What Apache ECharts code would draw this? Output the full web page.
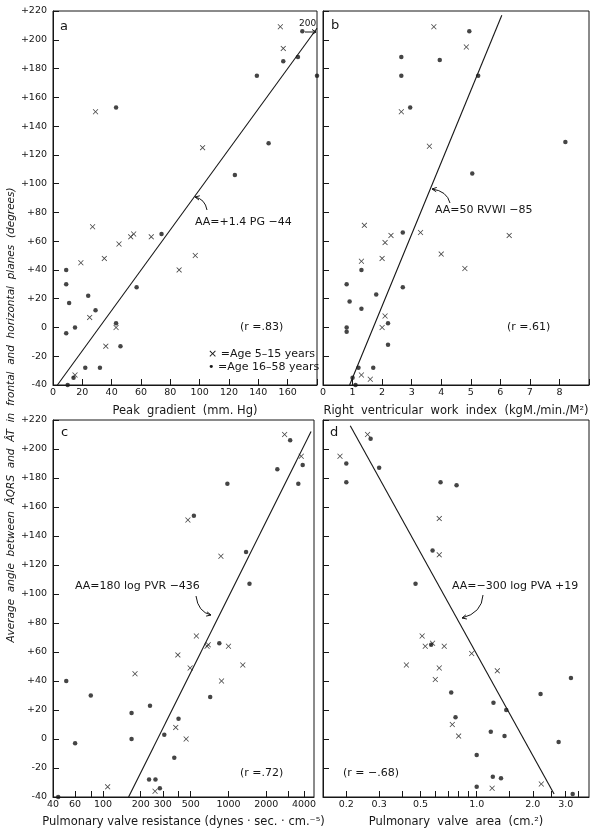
<!DOCTYPE html>
<html><head><meta charset="utf-8">
<script src="https://cdn.jsdelivr.net/npm/echarts@6/dist/echarts.min.js"></script>
<style>html,body{margin:0;padding:0;background:#fff}#c{width:601px;height:829px}</style>
</head><body><div id="c"></div>
<script>
// ---------- DATA ----------
// Panel a: Peak gradient (mm Hg) vs average angle
const aYoung = [[29,150],[102,125],[155,209],[157,194],[27,70],[53,63],[55,65],[67,63],[45,58],[35,48],[19,45],[25,7],[43,0],[36,-13],[15,-33],[86,40],[97,50]];
const aOld = [[43,153],[124,106],[139,175],[147,128],[157,185],[167,188],[170,206],[180,175],[74,65],[9,40],[9,30],[24,22],[11,17],[29,12],[15,0],[9,-4],[43,3],[46,-13],[22,-28],[32,-28],[14,-35],[10,-40],[57,28]];
const aLine = [[3,-40],[180,208]];
// Panel b: Right ventricular work index
const bYoung = [[3.75,209],[4.85,195],[2.65,150],[3.6,126],[1.4,71],[2.3,64],[3.3,66],[6.3,64],[2.1,59],[4.0,51],[2.0,48],[1.3,46],[4.8,41],[2.1,8],[2.0,0],[1.3,-33],[1.6,-36]];
const bOld = [[4.95,206],[2.65,188],[3.95,186],[2.65,175],[5.25,175],[2.95,153],[8.2,129],[5.05,107],[2.7,66],[1.3,40],[0.8,30],[2.7,28],[1.8,23],[0.9,18],[1.3,13],[2.2,3],[0.8,0],[0.8,-3],[2.2,-12],[1.2,-28],[1.7,-28],[1.0,-35],[1.1,-40]];
const bLine = [[0.9,-40],[6.05,217]];
// Panel c: Pulmonary valve resistance (log)
const cYoung = [[2800,210],[3800,195],[475,151],[870,126],[555,71],[675,64],[690,65],[1000,64],[395,58],[1300,51],[495,49],[180,45],[880,40],[380,8],[460,0],[109,-33],[260,-36]];
const cOld = [[3100,206],[3900,189],[2450,186],[3600,176],[980,176],[530,154],[1380,129],[1470,107],[845,66],[51,40],[80,30],[715,29],[237,23],[169,18],[400,14],[308,3],[169,0],[60,-3],[370,-13],[233,-28],[262,-28],[284,-34],[44,-40]];
const cLine = [[160,-40],[4550,212]];
// Panel d: Pulmonary valve area (log)
const dYoung = [[0.26,210],[0.185,195],[0.63,152],[0.63,127],[0.51,71],[0.53,64],[0.58,66],[0.67,64],[0.94,59],[0.42,51],[0.63,49],[1.29,47],[0.6,41],[0.74,10],[0.8,2],[1.21,-34],[2.22,-31]];
const dOld = [[0.27,207],[0.2,190],[0.3,187],[0.2,177],[0.64,177],[0.78,175],[0.58,130],[0.47,107],[0.57,65],[3.2,42],[0.73,32],[2.2,31],[1.23,25],[1.44,20],[0.77,15],[1.19,5],[1.41,2],[2.75,-2],[1.0,-11],[1.22,-26],[1.35,-27],[1.0,-33],[3.27,-38]];
const dLine = [[0.21,216],[2.6,-38]];
// Tick values
const cLabelValues = [40,60,100,200,300,500,1000,2000,4000];
const cTickValues = [40,60,80,100,200,300,400,500,1000,2000,3000,4000];
const dLabelValues = [0.2,0.3,0.5,1.0,2.0,3.0];
const dTickValues = [0.2,0.3,0.4,0.5,0.6,0.7,0.8,0.9,1.0,1.5,2.0,2.5,3.0,3.5];

// ---------- STYLE ----------
const INK = '#161616';
const F = 'DejaVu Sans';
const XSYM = 'path://M0,1L1,0L5,4L9,0L10,1L6,5L10,9L9,10L5,6L1,10L0,9L4,5Z';

const chart = echarts.init(document.getElementById('c'), null, {renderer:'canvas'});

function yAx(gi, show){
  return {type:'value', gridIndex:gi, min:-40, max:220, interval:20,
    axisLine:{show:true, onZero:false, lineStyle:{color:INK, width:1}},
    axisTick:{show:true, inside:true, length:6, lineStyle:{color:INK, width:1}},
    axisLabel:{show:show, color:INK, fontFamily:F, fontSize:9.5, margin:6,
      formatter: v => v>0 ? '+'+v : String(v)},
    splitLine:{show:false}};
}
function nameStyle(){ return {color:INK, fontFamily:F, fontSize:11.5}; }
const axLine = {show:true, onZero:false, lineStyle:{color:INK, width:1}};

const grids = [
  {left:53, top:11, width:264, height:374},
  {left:323, top:11, width:266, height:374},
  {left:53, top:420, width:261, height:379},
  {left:323, top:420, width:266, height:379}
].map(g => Object.assign({show:true, borderColor:INK, borderWidth:1, containLabel:false}, g));

const xAxes = [
  {type:'value', gridIndex:0, min:0, max:180, interval:20,
   name:'Peak  gradient  (mm. Hg)', nameLocation:'middle', nameGap:20, nameTextStyle:nameStyle(),
   axisLine:axLine, axisTick:{inside:true, length:6, lineStyle:{color:INK}},
   axisLabel:{color:INK, fontFamily:F, fontSize:9.5, margin:3, formatter: v => v===180 ? '' : String(v)},
   splitLine:{show:false}},
  {type:'value', gridIndex:1, min:0, max:9, interval:1,
   name:'Right  ventricular  work  index  (kgM./min./M²)', nameLocation:'middle', nameGap:20, nameTextStyle:nameStyle(),
   axisLine:axLine, axisTick:{inside:true, length:6, lineStyle:{color:INK}},
   axisLabel:{color:INK, fontFamily:F, fontSize:9.5, margin:3, formatter: v => v===9 ? '' : String(v)},
   splitLine:{show:false}},
  {type:'log', logBase:10, gridIndex:2, min:40, max:4800,
   name:'Pulmonary valve resistance (dynes · sec. · cm.⁻⁵)', nameLocation:'middle', nameGap:19, nameTextStyle:nameStyle(),
   axisLine:axLine,
   axisTick:{inside:true, length:6, lineStyle:{color:INK}, customValues:cTickValues},
   axisLabel:{color:INK, fontFamily:F, fontSize:9.5, margin:3, customValues:cLabelValues, formatter: v => String(Math.round(v))},
   minorTick:{show:false}, splitLine:{show:false}},
  {type:'log', logBase:10, gridIndex:3, min:0.15, max:4,
   name:'Pulmonary  valve  area  (cm.²)', nameLocation:'middle', nameGap:19, nameTextStyle:nameStyle(),
   axisLine:axLine,
   axisTick:{inside:true, length:6, lineStyle:{color:INK}, customValues:dTickValues},
   axisLabel:{color:INK, fontFamily:F, fontSize:9.5, margin:3, customValues:dLabelValues, formatter: v => Number(v).toFixed(1)},
   minorTick:{show:false}, splitLine:{show:false}}
];
const yAxes = [yAx(0,true), yAx(1,false), yAx(2,true), yAx(3,false)];

const panels = [[aYoung,aOld,aLine],[bYoung,bOld,bLine],[cYoung,cOld,cLine],[dYoung,dOld,dLine]];
const series = [];
panels.forEach((p,i) => {
  series.push({type:'line', xAxisIndex:i, yAxisIndex:i, data:p[2], symbol:'none', silent:true,
    lineStyle:{color:INK, width:1.1}, z:1});
  series.push({type:'scatter', xAxisIndex:i, yAxisIndex:i, data:p[0], symbol:XSYM, symbolSize:5.5,
    itemStyle:{color:INK}, z:2});
  series.push({type:'scatter', xAxisIndex:i, yAxisIndex:i, data:p[1], symbol:'circle', symbolSize:4.5,
    itemStyle:{color:INK}, z:2});
});

function txt(x,y,t,opt){
  return {type:'text', x:x, y:y, z:10, style:Object.assign({text:t, fill:INK, fontFamily:F, fontSize:11,
    align:'left', verticalAlign:'middle'}, opt||{})};
}
function arrow(sx,sy,cx,cy,ex,ey){
  const ang = Math.atan2(ey-cy, ex-cx), L=5, W=0.45;
  const p1=[ex - L*Math.cos(ang-W), ey - L*Math.sin(ang-W)];
  const p2=[ex - L*Math.cos(ang+W), ey - L*Math.sin(ang+W)];
  return [
    {type:'bezierCurve', z:10, shape:{x1:sx,y1:sy,x2:ex,y2:ey,cpx1:cx,cpy1:cy}, style:{stroke:INK,lineWidth:1,fill:null}},
    {type:'polyline', z:10, shape:{points:[p1,[ex,ey],p2]}, style:{stroke:INK,lineWidth:1,fill:null}}
  ];
}

const graphic = [
  txt(60,27,'a',{fontSize:13}), txt(331,26,'b',{fontSize:13}),
  txt(61,433,'c',{fontSize:13}), txt(330,433,'d',{fontSize:13}),
  txt(195,222,'AA=+1.4 PG −44'),
  txt(435,210,'AA=50 RVWI −85'),
  txt(75,586,'AA=180 log PVR −436'),
  txt(452,586,'AA=−300 log PVA +19'),
  txt(240,327,'(r =.83)'),
  txt(507,327,'(r =.61)'),
  txt(240,773,'(r =.72)'),
  txt(343,773,'(r = −.68)'),
  txt(208,354,'× =Age 5–15 years'),
  txt(208,367,'• =Age 16–58 years'),
  txt(299,24,'200',{fontSize:9}),
  {type:'line', z:10, shape:{x1:305,y1:32,x2:316,y2:32}, style:{stroke:INK,lineWidth:1}},
  {type:'polyline', z:10, shape:{points:[[312,29.5],[316,32],[312,34.5]]}, style:{stroke:INK,lineWidth:1,fill:null}},
  {type:'text', x:11, y:415, rotation:Math.PI/2, z:10,
   style:{text:'Average  angle  between  ÂQRS  and  ÂT  in  frontal  and  horizontal  planes  (degrees)',
     fill:INK, fontFamily:F, fontSize:10.5, fontStyle:'italic', align:'center', verticalAlign:'middle'}}
].concat(arrow(207,210,205,199,195,197))
 .concat(arrow(450,203,447,191,432,189))
 .concat(arrow(196,596,198,612,211,615))
 .concat(arrow(483,595,482,613,462,618));

chart.setOption({
  animation:false,
  backgroundColor:'#ffffff',
  grid:grids, xAxis:xAxes, yAxis:yAxes, series:series, graphic:graphic
});
</script></body></html>
